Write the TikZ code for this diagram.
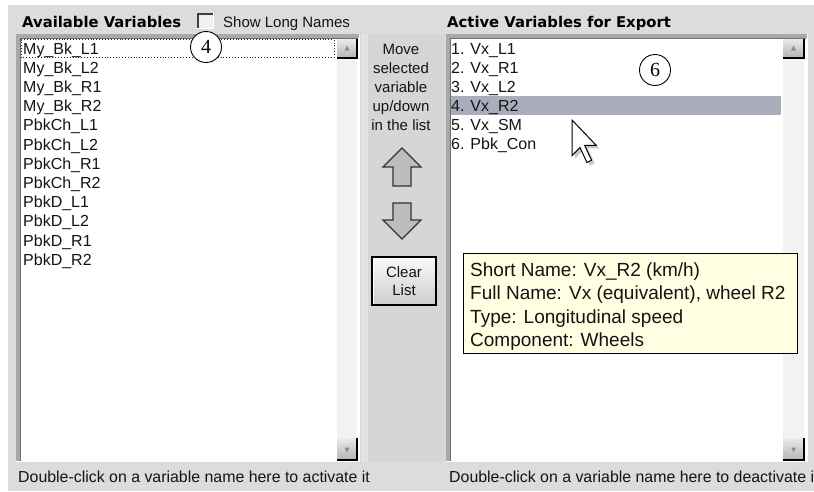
\documentclass[tikz,border=0pt]{standalone}
\usepackage{fontspec}
\setmainfont{Liberation Sans}
\newfontfamily\uibold{DejaVu Sans}
\newfontfamily\numserif{Liberation Serif}
\definecolor{bg}{HTML}{DCDCDC}
\definecolor{midbg}{HTML}{D6D6D6}
\definecolor{frband}{HTML}{A8A8A8}
\definecolor{frline}{HTML}{6E6E6E}
\definecolor{track}{HTML}{F2F2F2}
\definecolor{selband}{HTML}{ABACBB}
\definecolor{tipfill}{HTML}{FFFFE1}
\definecolor{arrowfill}{HTML}{BDBDBD}
\definecolor{txt}{HTML}{141414}
\tikzset{
  title/.style={anchor=base west, inner sep=0, text=black, font=\uibold\bfseries\fontsize{14.8}{17}\selectfont},
  label/.style={anchor=base west, inner sep=0, text=txt, font=\fontsize{15}{18}\selectfont},
  hint/.style={anchor=base west, inner sep=0, text=txt, font=\fontsize{15.9}{18}\selectfont},
  item/.style={anchor=base west, inner sep=0, text=txt, font=\fontsize{16}{19}\selectfont},
  midtext/.style={anchor=base, inner sep=0, text=txt, font=\fontsize{15}{18}\selectfont},
  tiptext/.style={anchor=base west, inner sep=0, text=txt, font=\fontsize{19}{23}\selectfont},
  callout/.style={circle, draw=black, line width=0.9pt, fill=white, minimum size=31pt, inner sep=0, font=\numserif\fontsize{20}{22}\selectfont},
  bigarrow/.style={fill=arrowfill, draw=black!80, line width=1.1pt, line join=miter},
  scrollbtn/.style={top color=black!8, bottom color=black!30},
}
\begin{document}
\begin{tikzpicture}[x=1pt,y=-1pt]
\useasboundingbox (0,0) rectangle (814,491);
\begin{scope}
\clip (0,0) rectangle (814,491);
\fill[white] (0,0) rectangle (814,491);
\fill[bg] (8,5) rectangle (814,491);
% middle panel
\fill[midbg] (360,34) rectangle (445,462);
\fill[black!6, opacity=0.5] (361,34) rectangle (368,462);

% titles
\node[title] (availtitle) at (22,27.4) {Available Variables};
\node[title] (activetitle) at (447,27.4) {Active Variables for Export};
% checkbox
\fill[black!6] (197,13) rectangle (213,28);
\draw[black!75, line width=2pt] (198,28) -- (198,14) -- (213,14);
\draw[white, line width=1pt] (197,28.5) -- (213.5,28.5) -- (213.5,13);
\node[label] (showlong) at (223,27.4) {Show Long Names};

% ---------- left list box ----------
\fill[white] (16,34) rectangle (359,461);
\fill[frband] (16,34) rectangle (359,37.5);
\fill[frband] (16,34) rectangle (19.5,461);
\draw[frline, line width=1pt] (20,461) -- (20,38) -- (358,38);
\draw[white, line width=1pt] (16,461.5) -- (359.5,461.5) -- (359.5,34);
\fill[track] (337,39) rectangle (357,460);
\shade[scrollbtn] (337,39) rectangle (357,58);
\draw[black, line width=1.3pt] (337,58) -- (357,58) -- (357,39);
\fill[black!45] (347,45.5) -- (349.5,50.5) -- (344.5,50.5) -- cycle;
\shade[scrollbtn] (337,438) rectangle (357,460);
\draw[black, line width=1.3pt] (337,460) -- (357,460) -- (357,438);
\fill[black!45] (347,452.5) -- (349.5,447.5) -- (344.5,447.5) -- cycle;
% focus rectangle
\draw[black!85, dotted, line width=0.9pt] (21,39.5) rectangle (334,57.5);

\foreach \t [count=\i from 0] in {My\_Bk\_L1,My\_Bk\_L2,My\_Bk\_R1,My\_Bk\_R2,PbkCh\_L1,PbkCh\_L2,PbkCh\_R1,PbkCh\_R2,PbkD\_L1,PbkD\_L2,PbkD\_R1,PbkD\_R2}
  \node[item] (left\i) at (23,{54+19.2*\i}) {\t};

\node[callout] (c4) at (206,47) {4};

% ---------- right list box ----------
\fill[white] (446,34) rectangle (807,461);
\fill[frband] (446,34) rectangle (807,37.5);
\fill[frband] (446,34) rectangle (449.5,461);
\draw[frline, line width=1pt] (450,461) -- (450,38) -- (806,38);
\draw[white, line width=1pt] (446,461.5) -- (807.5,461.5) -- (807.5,34);
\fill[track] (783,39) rectangle (804,460);
\shade[scrollbtn] (783,39) rectangle (804,58);
\draw[black, line width=1.3pt] (783,58) -- (804,58) -- (804,39);
\fill[black!45] (793.5,45.5) -- (796,50.5) -- (791,50.5) -- cycle;
\shade[scrollbtn] (783,438) rectangle (804,460);
\draw[black, line width=1.3pt] (783,460) -- (804,460) -- (804,438);
\fill[black!45] (793.5,452.5) -- (796,447.5) -- (791,447.5) -- cycle;
% selection band
\fill[selband] (451,96) rectangle (781,115);

\foreach \t [count=\i from 0] in {1. Vx\_L1,2. Vx\_R1,3. Vx\_L2,4. Vx\_R2,5. Vx\_SM,6. Pbk\_Con}
  \node[item] (right\i) at (451,{54+19*\i}) {\t};

\node[callout] (c6) at (655,70) {6};

% ---------- middle controls ----------
\foreach \t [count=\i from 0] in {Move,selected,variable,up/down,in the list}
  \node[midtext] (mid\i) at (401,{54+19*\i}) {\t};

\draw[bigarrow] (402,148) -- (421,167) -- (411,167) -- (411,186) -- (393,186) -- (393,167) -- (383,167) -- cycle;
\draw[bigarrow] (393,203) -- (411,203) -- (411,220) -- (421,220) -- (402,239) -- (383,220) -- (393,220) -- cycle;

\shade[top color=black!2, bottom color=black!20] (372,257) rectangle (436,305);
\draw[black, line width=1.3pt] (372,257) rectangle (436,305);
\draw[white, line width=1pt] (373.5,303.5) -- (373.5,258.5) -- (434.5,258.5);
\node[midtext] (clear) at (404,277.5) {Clear};
\node[midtext] (list) at (404,295.5) {List};

% ---------- tooltip ----------
\draw[fill=tipfill, draw=black, line width=1pt] (463,253) rectangle (797,353);
\node[tiptext] (tip1) at (470,276) {Short Name: Vx\_R2 (km/h)};
\node[tiptext] (tip2) at (470,299.5) {Full Name: Vx (equivalent), wheel R2};
\node[tiptext] (tip3) at (470,323) {Type: Longitudinal speed};
\node[tiptext] (tip4) at (470,346.5) {Component: Wheels};

% ---------- cursor ----------
\begin{scope}[shift={(572,120)}, scale=2.3]
  \fill[black, opacity=0.22] (1.3,1.3) -- (1.3,16.8) -- (4.8,13.3) -- (7.8,19.8) -- (9.8,18.8) -- (6.8,12.3) -- (11.8,12.3) -- cycle;
  \draw[fill=white, draw=black, line width=1pt, line join=miter] (0,0) -- (0,15.5) -- (3.5,12) -- (6.5,18.5) -- (8.5,17.5) -- (5.5,11) -- (10.5,11) -- cycle;
\end{scope}

% ---------- bottom hints ----------
\node[hint] (hintleft) at (18,482.5) {Double-click on a variable name here to activate it};
\node[hint] (hintright) at (449,482.5) {Double-click on a variable name here to deactivate it};
\end{scope}
\end{tikzpicture}
\end{document}
